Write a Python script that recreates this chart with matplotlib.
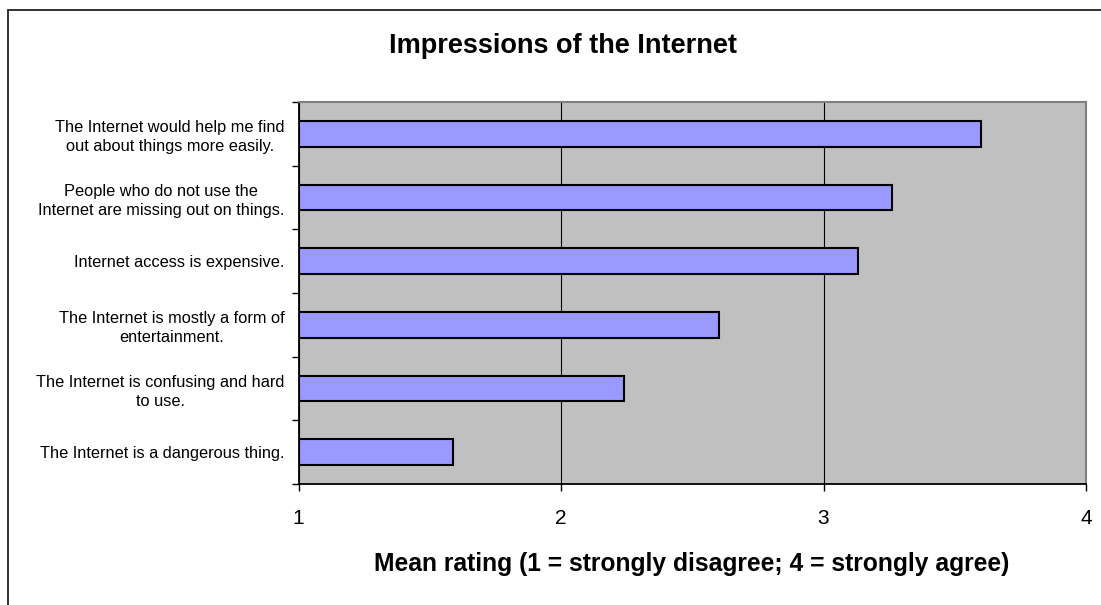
import matplotlib
matplotlib.use("Agg")
import matplotlib.pyplot as plt
from matplotlib.patches import Rectangle
import numpy as np

# Survey statements (top to bottom) and their mean agreement ratings
statements = [
    "The Internet would help me find\nout about things more easily.",
    "People who do not use the\nInternet are missing out on things.",
    "Internet access is expensive.",
    "The Internet is mostly a form of\nentertainment.",
    "The Internet is confusing and hard\nto use.",
    "The Internet is a dangerous thing.",
]
mean_ratings = [3.60, 3.26, 3.13, 2.60, 2.24, 1.59]
x_ticks = [1, 2, 3, 4]

title = "Impressions of the Internet"
x_label = "Mean rating (1 = strongly disagree; 4 = strongly agree)"

plt.rcParams["font.family"] = ["Liberation Sans", "DejaVu Sans"]

W, H = 1101, 605
fig = plt.figure(figsize=(W / 100, H / 100), dpi=100)
fig.patch.set_facecolor("white")

# Chart frame (only its top and left edges fall inside the image)
fig.patches.append(Rectangle((8 / W, -0.1), 1.2, 1.1 - 10.5 / H,
                             transform=fig.transFigure, fill=False,
                             edgecolor="#222222", linewidth=1.3))

ax = fig.add_axes([298.5 / W, (H - 484) / H, (1086 - 298.5) / W, (484 - 102) / H])
ax.set_facecolor("#C0C0C0")

n = len(statements)
pos = np.arange(n)[::-1]  # first statement at the top
ax.barh(pos, [v - 1 for v in mean_ratings], left=1, height=0.4,
        color="#9999FF", edgecolor="black", linewidth=1.5, zorder=3)

ax.set_xlim(1, 4)
ax.set_ylim(-0.5, n - 0.5)

ax.set_xticks(x_ticks)
ax.set_xticklabels([str(t) for t in x_ticks], fontsize=15)
ax.tick_params(axis="x", direction="out", length=5, width=1, color="black", pad=13)

# y axis: tick marks on band boundaries, labels at band centres
ax.set_yticks(np.arange(n + 1) - 0.5)
ax.set_yticklabels([])
ax.set_yticks(pos, minor=True)
ax.set_yticklabels(statements, minor=True, fontsize=11.8,
                   multialignment="center", linespacing=1.3)
ax.tick_params(axis="y", which="major", direction="out", length=5, width=1, color="black")
ax.tick_params(axis="y", which="minor", length=0, pad=10)

ax.xaxis.grid(True, color="black", linewidth=0.8, zorder=1)
ax.set_axisbelow(True)

for side in ("top", "right"):
    ax.spines[side].set_color("#808080")
    ax.spines[side].set_linewidth(1.5)
for side in ("left", "bottom"):
    ax.spines[side].set_color("black")
    ax.spines[side].set_linewidth(1.3)

fig.text(563 / W, 1 - 46 / H, title, ha="center", va="center",
         fontsize=19.5, fontweight="bold")
fig.text(692 / W, 1 - 564 / H, x_label, ha="center", va="center",
         fontsize=17.7, fontweight="bold")

fig.savefig("out.png", dpi=100)
